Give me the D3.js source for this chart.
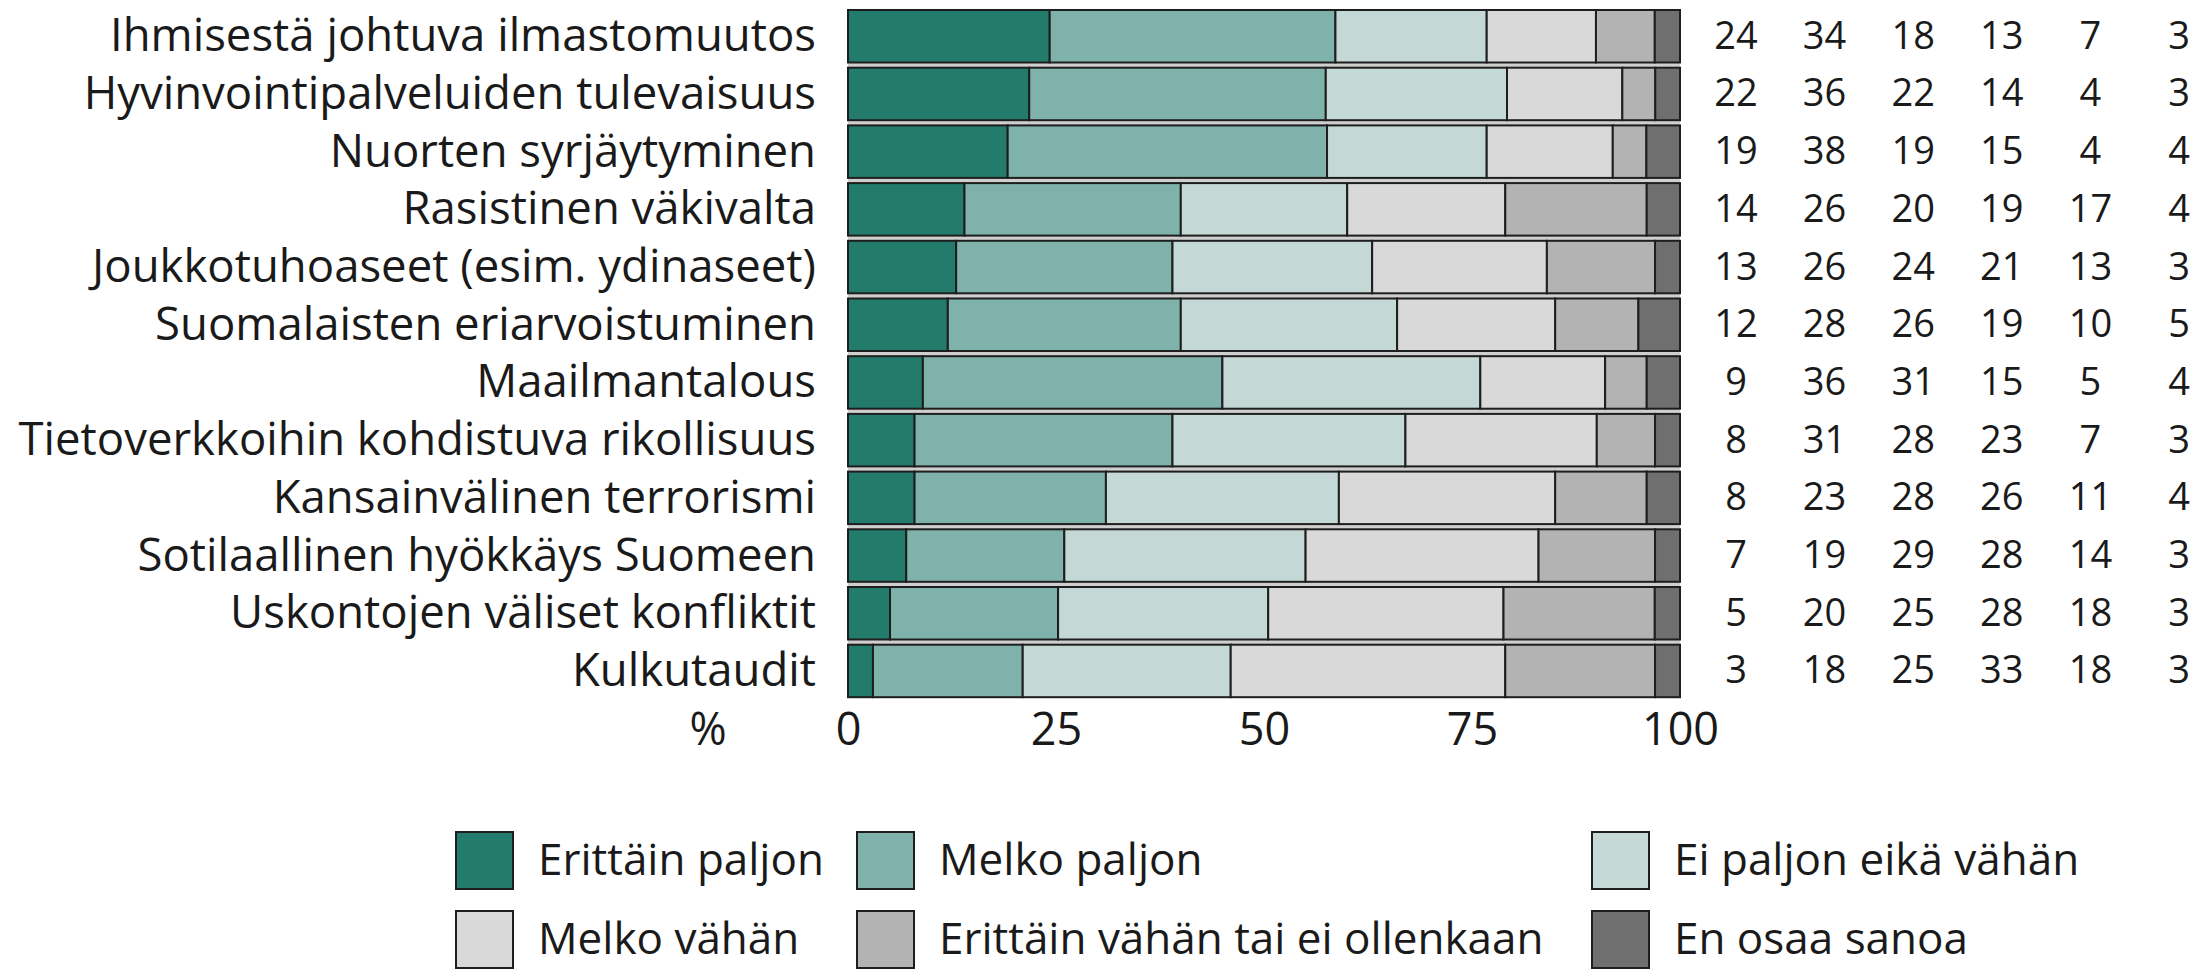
<!DOCTYPE html>
<html>
<head>
<meta charset="utf-8">
<script src="https://cdn.jsdelivr.net/npm/d3@7"></script>
<style>
    html, body { margin: 0; padding: 0; background: #fff; }
    svg { display: block; font-family: "Open Sans", sans-serif; }
</style>
</head>
<body>
<svg id="chart" width="2201" height="971"></svg>
<script>
    // aiheet ylhaalta alas
    var topics = [
        "Ihmisestä johtuva ilmastomuutos",
        "Hyvinvointipalveluiden tulevaisuus",
        "Nuorten syrjäytyminen",
        "Rasistinen väkivalta",
        "Joukkotuhoaseet (esim. ydinaseet)",
        "Suomalaisten eriarvoistuminen",
        "Maailmantalous",
        "Tietoverkkoihin kohdistuva rikollisuus",
        "Kansainvälinen terrorismi",
        "Sotilaallinen hyökkäys Suomeen",
        "Uskontojen väliset konfliktit",
        "Kulkutaudit"
    ];

    var answers = [
        "Erittäin paljon",
        "Melko paljon",
        "Ei paljon eikä vähän",
        "Melko vähän",
        "Erittäin vähän tai ei ollenkaan",
        "En osaa sanoa"
    ];

    // prosentit, yksi taulukko per vastausvaihtoehto
    var erittainPaljon = [24, 22, 19, 14, 13, 12, 9, 8, 8, 7, 5, 3],
        melkoPaljon = [34, 36, 38, 26, 26, 28, 36, 31, 23, 19, 20, 18],
        eiPaljonEikaVahan = [18, 22, 19, 20, 24, 26, 31, 28, 28, 29, 25, 25],
        melkoVahan = [13, 14, 15, 19, 21, 19, 15, 23, 26, 28, 28, 33],
        erittainVahan = [7, 4, 4, 17, 13, 10, 5, 7, 11, 14, 18, 18],
        enOsaaSanoa = [3, 3, 4, 4, 3, 5, 4, 3, 4, 3, 3, 3];

    var colors = ["#237b6b", "#7fb2ab", "#c4d9d5", "#d9d9d9", "#b3b3b3", "#6f6f6f"];

    var axisTicks = [0, 25, 50, 75, 100];

    var series = [erittainPaljon, melkoPaljon, eiPaljonEikaVahan, melkoVahan, erittainVahan, enOsaaSanoa];

    var svg = d3.select("#chart"),
        textColor = "#1a1a1a";

    // rivit: pinotaan ja skaalataan summa sataan
    var rows = topics.map(function (topic, i) {
        var vals = series.map(function (s) { return s[i]; }),
            total = d3.sum(vals),
            acc = 0;

        return {
            topic: topic,
            values: vals,
            segs: vals.map(function (v, j) {
                var seg = {k: j, x0: acc / total * 100, x1: (acc + v) / total * 100};

                acc += v;
                return seg;
            })
        };
    });

    var x = d3.scaleLinear().domain([0, 100]).range([848, 1680]),
        y = d3.scaleBand().domain(topics).range([7.4, 699.8]).paddingInner(0.09).paddingOuter(0.045),
        col = d3.scalePoint().domain(answers).range([1736, 2179]),
        color = d3.scaleOrdinal().domain(answers).range(colors);

    // harmaa tausta rivien valiin
    svg.append("rect")
        .attr("x", x(0))
        .attr("width", x(100) - x(0))
        .attr("y", y(topics[0]))
        .attr("height", y(topics[topics.length - 1]) + y.bandwidth() - y(topics[0]))
        .attr("fill", "#cfcfcf");

    var rowG = svg.append("g").selectAll("g")
        .data(rows)
        .enter()
        .append("g")
        .attr("transform", function (d) { return "translate(0," + y(d.topic) + ")"; });

    // palkit
    rowG.selectAll("rect")
        .data(function (d) { return d.segs; })
        .enter()
        .append("rect")
        .attr("x", function (d) { return x(d.x0); })
        .attr("width", function (d) { return x(d.x1) - x(d.x0); })
        .attr("y", 0)
        .attr("height", y.bandwidth())
        .attr("fill", function (d) { return color(answers[d.k]); })
        .attr("stroke", "#1e1e1e")
        .attr("stroke-width", 2);

    // aiheiden nimet
    rowG.append("text")
        .attr("x", 816)
        .attr("y", y.bandwidth() / 2)
        .attr("dy", "0.33em")
        .attr("text-anchor", "end")
        .attr("font-size", 45.5)
        .attr("fill", textColor)
        .text(function (d) { return d.topic; });

    // luvut oikealla
    rowG.selectAll("text.num")
        .data(function (d) { return d.values; })
        .enter()
        .append("text")
        .attr("class", "num")
        .attr("x", function (d, j) { return col(answers[j]); })
        .attr("y", y.bandwidth() / 2)
        .attr("dy", "0.33em")
        .attr("text-anchor", "middle")
        .attr("font-size", 38)
        .attr("fill", textColor)
        .text(function (d) { return d; });

    // x-akseli
    var axisG = svg.append("g")
        .attr("transform", "translate(0,698)")
        .call(d3.axisBottom(x).tickValues(axisTicks).tickSize(0).tickPadding(15));

    axisG.select(".domain").remove();
    axisG.selectAll("text")
        .attr("font-family", "Open Sans, sans-serif")
        .attr("font-size", 45)
        .attr("fill", textColor);

    svg.append("text")
        .attr("x", 708)
        .attr("y", 745)
        .attr("text-anchor", "middle")
        .attr("font-size", 45)
        .attr("fill", textColor)
        .text("%");

    // selite, kolme saraketta
    var legendX = [456, 857, 1592],
        legendY = [832, 911];

    var legendG = svg.append("g").selectAll("g")
        .data(answers)
        .enter()
        .append("g")
        .attr("transform", function (d, i) {
            return "translate(" + legendX[i % 3] + "," + legendY[Math.floor(i / 3)] + ")";
        });

    legendG.append("rect")
        .attr("width", 57)
        .attr("height", 57)
        .attr("fill", function (d) { return color(d); })
        .attr("stroke", "#1e1e1e")
        .attr("stroke-width", 2);

    legendG.append("text")
        .attr("x", 82)
        .attr("y", 28.5)
        .attr("dy", "0.33em")
        .attr("font-size", 44)
        .attr("fill", textColor)
        .text(function (d) { return d; });
</script>
</body>
</html>
